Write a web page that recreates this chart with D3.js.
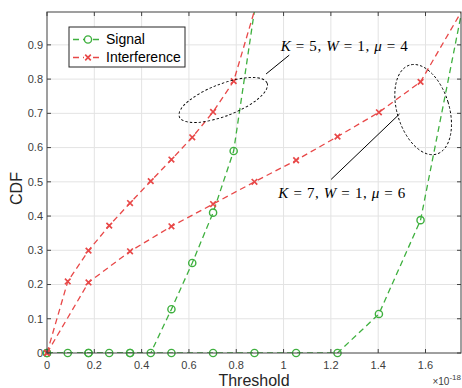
<!DOCTYPE html>
<html>
<head>
<meta charset="utf-8">
<script src="https://cdn.jsdelivr.net/npm/d3@7"></script>
<style>
  body { margin: 0; background: #fff; }
  svg { display: block; }
</style>
</head>
<body>
<div id="chart"></div>
<script>
// thresholds (units of 1e-18)
const xK5 = [0, 0.0877, 0.1754, 0.263, 0.351, 0.4385, 0.526, 0.614, 0.702, 0.789, 0.877]
const xK7 = [0, 0.1754, 0.351, 0.526, 0.702, 0.877, 1.053, 1.228, 1.403, 1.579, 1.754]

const signalK5 = [0, 0, 0, 0, 0, 0, 0.128, 0.263, 0.41, 0.59, 1.0]
const interfK5 = [0, 0.209, 0.299, 0.372, 0.438, 0.502, 0.565, 0.63, 0.704, 0.794, 1.0]
const signalK7 = [0, 0, 0, 0, 0, 0, 0, 0, 0.114, 0.388, 1.0]
const interfK7 = [0, 0.206, 0.297, 0.37, 0.435, 0.5, 0.563, 0.632, 0.703, 0.792, 1.0]

const xTicks = [0, 0.2, 0.4, 0.6, 0.8, 1, 1.2, 1.4, 1.6]
const yTicks = [0, 0.1, 0.2, 0.3, 0.4, 0.5, 0.6, 0.7, 0.8, 0.9]

const legendLabels = ['Signal', 'Interference']

const labelK5 = 'K = 5, W = 1, μ = 4'
const labelK7 = 'K = 7, W = 1, μ = 6'

const width = 462
const height = 388
const margin = { top: 12, left: 47, right: 1, bottom: 35 }

const green = '#3fb03f'
const red = '#e84848'
const axisColor = '#404040'

const svg = d3
  .select('#chart')
  .append('svg')
  .attr('width', width)
  .attr('height', height)
  .style('font-family', 'Liberation Sans, Arial, sans-serif')

const x = d3
  .scaleLinear()
  .domain([0, 1.75])
  .range([margin.left, width - margin.right])

const y = d3
  .scaleLinear()
  .domain([0, 0.996])
  .range([height - margin.bottom, margin.top])

const x0 = x.range()[0]
const x1 = x.range()[1]
const y0 = y.range()[0]
const y1 = y.range()[1]

svg
  .append('defs')
  .append('clipPath')
  .attr('id', 'plot-clip')
  .append('rect')
  .attr('x', x0)
  .attr('y', y1)
  .attr('width', x1 - x0)
  .attr('height', y0 - y1)

// grid
svg
  .append('g')
  .selectAll('line')
  .data(xTicks.slice(1))
  .enter()
  .append('line')
  .attr('x1', d => x(d))
  .attr('x2', d => x(d))
  .attr('y1', y0)
  .attr('y2', y1)
  .attr('stroke', '#e3e3e3')
  .attr('stroke-width', 1)

svg
  .append('g')
  .selectAll('line')
  .data(yTicks.slice(1))
  .enter()
  .append('line')
  .attr('x1', x0)
  .attr('x2', x1)
  .attr('y1', d => y(d))
  .attr('y2', d => y(d))
  .attr('stroke', '#e3e3e3')
  .attr('stroke-width', 1)

// series
const series = [
  { xs: xK5, ys: signalK5, color: green, marker: 'o' },
  { xs: xK5, ys: interfK5, color: red, marker: 'x' },
  { xs: xK7, ys: signalK7, color: green, marker: 'o' },
  { xs: xK7, ys: interfK7, color: red, marker: 'x' }
]

const line = d3
  .line()
  .x(d => x(d[0]))
  .y(d => y(d[1]))

const plot = svg.append('g')

function drawMarker(g, type, color) {
  if (type === 'o') {
    g.append('circle')
      .attr('r', 3.6)
      .attr('fill', 'none')
      .attr('stroke', color)
      .attr('stroke-width', 1.4)
  } else {
    g.append('path')
      .attr('d', 'M-2.8,-2.8L2.8,2.8M-2.8,2.8L2.8,-2.8')
      .attr('stroke', color)
      .attr('stroke-width', 1.7)
  }
}

series.forEach(s => {
  const pts = s.xs.map((v, i) => [v, s.ys[i]])
  plot
    .append('path')
    .datum(pts)
    .attr('d', line)
    .attr('fill', 'none')
    .attr('stroke', s.color)
    .attr('stroke-width', 1.3)
    .attr('stroke-dasharray', '6,4')
    .attr('clip-path', 'url(#plot-clip)')

  const inside = pts.filter(
    p => p[0] <= x.domain()[1] && p[1] <= y.domain()[1]
  )
  plot
    .selectAll(null)
    .data(inside)
    .enter()
    .append('g')
    .attr('transform', d => `translate(${x(d[0])},${y(d[1])})`)
    .each(function() {
      drawMarker(d3.select(this), s.marker, s.color)
    })
})

// axes box and ticks
const axes = svg.append('g')
axes
  .append('rect')
  .attr('x', x0)
  .attr('y', y1)
  .attr('width', x1 - x0)
  .attr('height', y0 - y1)
  .attr('fill', 'none')
  .attr('stroke', axisColor)
  .attr('stroke-width', 1)

const tickLen = 4
xTicks.forEach(t => {
  axes.append('line')
    .attr('x1', x(t)).attr('x2', x(t))
    .attr('y1', y0).attr('y2', y0 - tickLen)
    .attr('stroke', axisColor)
  axes.append('line')
    .attr('x1', x(t)).attr('x2', x(t))
    .attr('y1', y1).attr('y2', y1 + tickLen)
    .attr('stroke', axisColor)
})
yTicks.forEach(t => {
  axes.append('line')
    .attr('x1', x0).attr('x2', x0 + tickLen)
    .attr('y1', y(t)).attr('y2', y(t))
    .attr('stroke', axisColor)
  axes.append('line')
    .attr('x1', x1).attr('x2', x1 - tickLen)
    .attr('y1', y(t)).attr('y2', y(t))
    .attr('stroke', axisColor)
})

const fmt = d => (d === 0 ? '0' : String(+d.toFixed(1)))

axes
  .selectAll('.xlab')
  .data(xTicks)
  .enter()
  .append('text')
  .attr('x', d => x(d))
  .attr('y', y0 + 16)
  .attr('text-anchor', 'middle')
  .attr('font-size', 11)
  .attr('fill', '#404040')
  .text(fmt)

axes
  .selectAll('.ylab')
  .data(yTicks)
  .enter()
  .append('text')
  .attr('x', x0 - 4)
  .attr('y', d => y(d))
  .attr('dy', '0.35em')
  .attr('text-anchor', 'end')
  .attr('font-size', 11)
  .attr('fill', '#404040')
  .text(fmt)

// axis titles
svg
  .append('text')
  .attr('x', (x0 + x1) / 2)
  .attr('y', 386)
  .attr('text-anchor', 'middle')
  .attr('font-size', 16)
  .attr('fill', '#262626')
  .text('Threshold')

svg
  .append('text')
  .attr('transform', `translate(22,${(y0 + y1) / 2 + 6}) rotate(-90)`)
  .attr('text-anchor', 'middle')
  .attr('font-size', 16)
  .attr('fill', '#262626')
  .text('CDF')

const expo = svg
  .append('text')
  .attr('x', x1)
  .attr('y', 385)
  .attr('text-anchor', 'end')
  .attr('font-size', 10)
  .attr('fill', '#404040')
expo.append('tspan').text('×10')
expo.append('tspan').attr('dy', -5).attr('font-size', 8).text('-18')

// legend
const legend = svg.append('g').attr('transform', 'translate(69,27)')
legend
  .append('rect')
  .attr('width', 116)
  .attr('height', 40)
  .attr('fill', '#fff')
  .attr('stroke', '#262626')
  .attr('stroke-width', 1)

legendLabels.forEach((lab, i) => {
  const cy = 12.5 + i * 18
  const color = i === 0 ? green : red
  legend
    .append('line')
    .attr('x1', 4)
    .attr('x2', 34)
    .attr('y1', cy)
    .attr('y2', cy)
    .attr('stroke', color)
    .attr('stroke-width', 1.3)
    .attr('stroke-dasharray', '6,4')
  const m = legend.append('g').attr('transform', `translate(19,${cy})`)
  m.append('rect').attr('x', -4).attr('y', -4).attr('width', 8).attr('height', 8).attr('fill', '#fff')
  drawMarker(m, i === 0 ? 'o' : 'x', color)
  legend
    .append('text')
    .attr('x', 37)
    .attr('y', cy)
    .attr('dy', '0.35em')
    .attr('font-size', 14)
    .attr('fill', '#000')
    .text(lab)
})

// annotations (data coordinates)
const ellipses = [
  { cx: 0.745, cy: 0.739, rx: 47, ry: 16, rot: -21 },
  { cx: 1.59, cy: 0.711, rx: 26, ry: 46.5, rot: -17 }
]
const leaders = [
  [[1.024, 0.87], [0.926, 0.815]],
  [[1.201, 0.507], [1.49, 0.698]]
]
const notes = [
  { x: 0.988, y: 0.883, text: labelK5 },
  { x: 0.978, y: 0.452, text: labelK7 }
]

const ann = svg.append('g')
ann
  .selectAll('ellipse')
  .data(ellipses)
  .enter()
  .append('ellipse')
  .attr('transform', d => `translate(${x(d.cx)},${y(d.cy)}) rotate(${d.rot})`)
  .attr('rx', d => d.rx)
  .attr('ry', d => d.ry)
  .attr('fill', 'none')
  .attr('stroke', '#000')
  .attr('stroke-width', 0.9)
  .attr('stroke-dasharray', '2.5,2')

ann
  .selectAll('.leader')
  .data(leaders)
  .enter()
  .append('line')
  .attr('x1', d => x(d[0][0]))
  .attr('y1', d => y(d[0][1]))
  .attr('x2', d => x(d[1][0]))
  .attr('y2', d => y(d[1][1]))
  .attr('stroke', '#000')
  .attr('stroke-width', 1)

notes.forEach(n => {
  const t = ann
    .append('text')
    .attr('x', x(n.x))
    .attr('y', y(n.y))
    .attr('font-family', 'Liberation Serif, DejaVu Serif, serif')
    .attr('font-size', 15)
    .attr('fill', '#000')
    .attr('textLength', 127)
    .attr('lengthAdjust', 'spacing')
  // italic for the symbols, upright for numbers and signs
  n.text.split(/([KWμ])/).forEach(part => {
    if (!part) return
    const sp = t.append('tspan').text(part)
    if (/[KWμ]/.test(part)) sp.attr('font-style', 'italic')
  })
})
</script>
</body>
</html>
